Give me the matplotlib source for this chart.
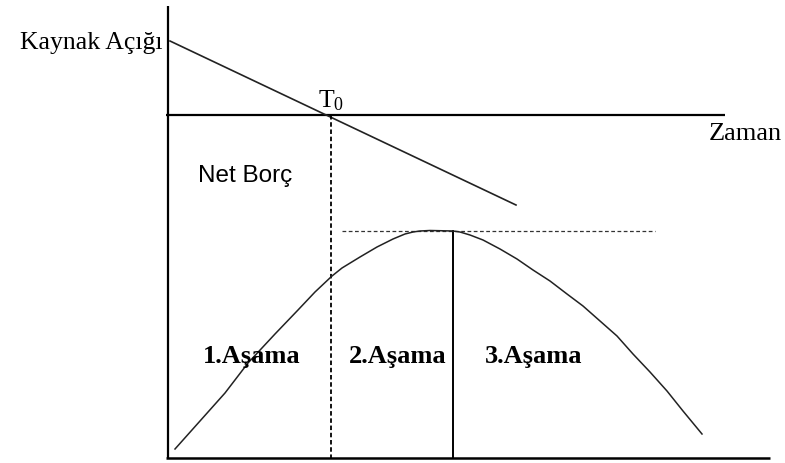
import matplotlib
matplotlib.use("Agg")
import matplotlib.pyplot as plt
import numpy as np

plt.rcParams['mathtext.fontset'] = 'custom'
plt.rcParams['mathtext.rm'] = 'Liberation Serif'
plt.rcParams['mathtext.it'] = 'Liberation Serif'

# Diagram geometry (pixel space, y downward)
y_axis_x = [168, 168]
y_axis_y = [7, 459]
x_axis_x = [166, 770]
x_axis_y = [459, 459]
zaman_x = [166, 725]
zaman_y = [116, 116]
deficit_x = [170, 516]
deficit_y = [42, 206]
t0_x = [331, 331]
t0_y = [116, 459]
peak_dash_x = [342, 655]
peak_dash_y = [232, 232]
peak_x = [453, 453]
peak_y = [232, 459]
curve_x = [175, 200, 225, 248, 275, 298, 315, 332, 342, 360, 377, 393, 405, 413, 420,
           430, 453, 460, 470, 483, 500, 517, 533, 550, 567, 583, 600, 617, 633, 650, 667, 683, 702]
curve_y = [450, 422, 394, 364, 335, 311, 293, 277, 269, 258, 248, 240, 235, 233, 232,
           231.5, 232, 233, 236, 241, 250, 260, 271, 282, 295, 307, 322, 337, 355, 373, 392, 412, 435]

labels = ["Kaynak Açığı", "Net Borç", "Zaman", "1.Aşama", "2.Aşama", "3.Aşama"]

fig = plt.figure(figsize=(7.85, 4.64), dpi=100)
ax = fig.add_axes([0, 0, 1, 1])
ax.set_xlim(0, 785)
ax.set_ylim(464, 0)
ax.axis('off')

k = 'black'
ax.plot(y_axis_x, y_axis_y, color=k, lw=1.6, solid_capstyle='butt')
ax.plot(x_axis_x, x_axis_y, color=k, lw=1.8, solid_capstyle='butt')
ax.plot(zaman_x, zaman_y, color=k, lw=1.6, solid_capstyle='butt')
ax.plot(deficit_x, deficit_y, color='#222222', lw=1.2)
ax.plot(t0_x, t0_y, color=k, lw=1.3, ls=(0, (2.5, 1.5)))
ax.plot(peak_dash_x, peak_dash_y, color='#333333', lw=0.9, ls=(0, (3, 2)))
ax.plot(peak_x, peak_y, color=k, lw=1.4)
ax.plot(curve_x, curve_y, color='#222222', lw=1.1)

serif = 'Liberation Serif'
ax.text(163, 43, labels[0], ha='right', va='center', fontsize=18.5, family=serif)
ax.text(318, 100, r"$\mathrm{T}_{\mathrm{0}}$", ha='left', va='center', fontsize=18.5)
ax.text(198, 176, labels[1], ha='left', va='center', fontsize=17.5, family='Liberation Sans')
ax.text(782, 134, labels[2], ha='right', va='center', fontsize=19, family=serif)
for lab, x in zip(labels[3:], [203, 349, 485]):
    ax.text(x, 357, lab, ha='left', va='center', fontsize=19, family=serif, fontweight='bold')

fig.savefig("out.png", dpi=100)
